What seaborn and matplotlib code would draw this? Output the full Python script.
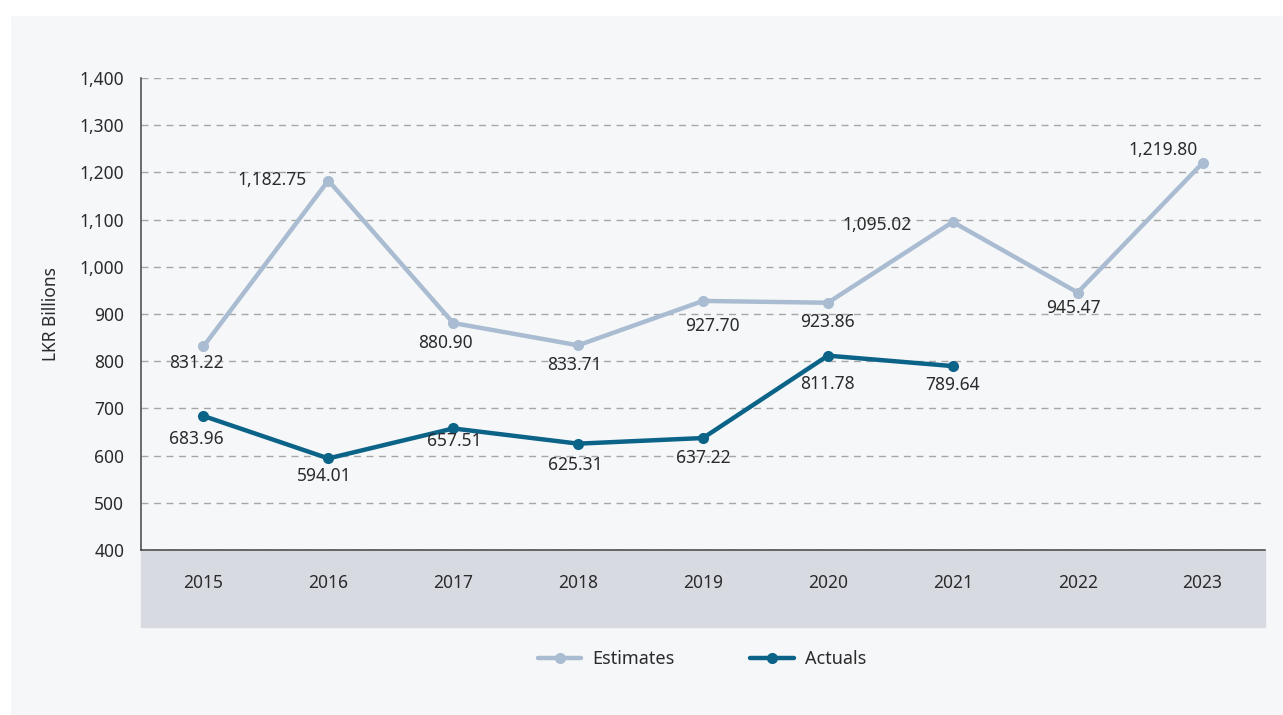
import matplotlib
matplotlib.use("Agg")
import matplotlib.pyplot as plt
import seaborn as sns
import numpy as np
import pandas as pd
from matplotlib.patches import Rectangle
from matplotlib.ticker import FixedLocator, FuncFormatter

years = [2015, 2016, 2017, 2018, 2019, 2020, 2021, 2022, 2023]
estimates = [831.22, 1182.75, 880.90, 833.71, 927.70, 923.86, 1095.02, 945.47, 1219.80]
actuals = [683.96, 594.01, 657.51, 625.31, 637.22, 811.78, 789.64, np.nan, np.nan]
series_names = ["Estimates", "Actuals"]
y_label = "LKR Billions"

# label offsets in pixels (dx, dy) relative to point; positive dy = up
est_offsets = [(-7, -17), (-56, 1), (-8, -20), (-4, -20), (9, -25), (0, -19), (-76, -3), (-4, -15), (-40, 13)]
act_offsets = [(-7, -23), (-4, -18), (1, -13), (-3, -21), (0, -20), (0, -28), (0, -19), (0, 0), (0, 0)]

EST_C = "#a9bcd1"
ACT_C = "#0b6388"
BG = "#f6f7f9"
BAND = "#d7dae1"
TXT = "#2b2b2b"

sns.set_style("white")
plt.rcParams["font.family"] = ["Noto Sans", "DejaVu Sans"]

W, H = 1283, 715
fig = plt.figure(figsize=(W / 100, H / 100), dpi=100, facecolor=BG)
# white margins top/left
fig.patches.append(Rectangle((0, 1 - 15 / H), 1, 15 / H, transform=fig.transFigure, color="white", zorder=0))
fig.patches.append(Rectangle((0, 0), 10 / W, 1, transform=fig.transFigure, color="white", zorder=0))

left, right, top, bottom = 141, 1265, 78, 550
ax = fig.add_axes([left / W, 1 - bottom / H, (right - left) / W, (bottom - top) / H])
ax.set_facecolor(BG)

df = pd.DataFrame({"year": years * 2,
                   "value": estimates + actuals,
                   "series": [series_names[0]] * len(years) + [series_names[1]] * len(years)})
df = df.dropna()

sns.lineplot(data=df, x="year", y="value", hue="series", palette=[EST_C, ACT_C],
             marker="o", markersize=8, markeredgewidth=0, linewidth=3.2, ax=ax,
             legend=False, zorder=3)

ax.set_xlim(years[0] - 0.5, years[-1] + 0.5)
ax.set_ylim(400, 1400)
ax.yaxis.set_major_locator(FixedLocator(np.arange(400, 1401, 100)))
ax.yaxis.set_major_formatter(FuncFormatter(lambda v, p: f"{int(v):,}"))
ax.set_xticks(years)
ax.set_xticklabels([str(y) for y in years])
ax.set_xticks(np.arange(years[0] - 0.5, years[-1] + 0.6, 1), minor=True)
ax.tick_params(axis="x", which="major", length=0, pad=17, labelsize=12.5, labelcolor=TXT)
ax.tick_params(axis="x", which="minor", length=6, width=1, color="#555555", direction="out")
ax.tick_params(axis="y", which="major", length=0, pad=12, labelsize=12.5, labelcolor=TXT)
ax.set_xlabel("")
ax.set_ylabel(y_label, fontsize=12.5, color=TXT, labelpad=14)

ax.grid(axis="y", linestyle=(0, (5, 4)), color="#a6a6a6", linewidth=1)
ax.grid(axis="x", visible=False)
for s in ["top", "right"]:
    ax.spines[s].set_visible(False)
for s in ["left", "bottom"]:
    ax.spines[s].set_color("#444444")
    ax.spines[s].set_linewidth(1.1)

# gray band under the x axis
band_h = (627 - bottom) / (bottom - top)
ax.add_patch(Rectangle((0, -band_h), 1, band_h, transform=ax.transAxes, color=BAND,
                       clip_on=False, zorder=0))

px = 72 / 100
for yr, v, (dx, dy) in zip(years, estimates, est_offsets):
    ax.annotate(f"{v:,.2f}", (yr, v), xytext=(dx * px, dy * px), textcoords="offset points",
                ha="center", va="center", fontsize=12.5, color=TXT, zorder=4)
for yr, v, (dx, dy) in zip(years, actuals, act_offsets):
    if np.isnan(v):
        continue
    ax.annotate(f"{v:,.2f}", (yr, v), xytext=(dx * px, dy * px), textcoords="offset points",
                ha="center", va="center", fontsize=12.5, color=TXT, zorder=4)

handles = [plt.Line2D([], [], color=EST_C, marker="o", markersize=8, markeredgewidth=0, linewidth=3.2),
           plt.Line2D([], [], color=ACT_C, marker="o", markersize=8, markeredgewidth=0, linewidth=3.2)]
fig.legend(handles, series_names, loc="center", bbox_to_anchor=(702 / W, 1 - 659 / H), ncol=2,
           frameon=False, handlelength=2.4, columnspacing=4.2, handletextpad=0.6,
           fontsize=13, labelcolor=TXT)

fig.savefig("out.png", dpi=100, facecolor=BG)
